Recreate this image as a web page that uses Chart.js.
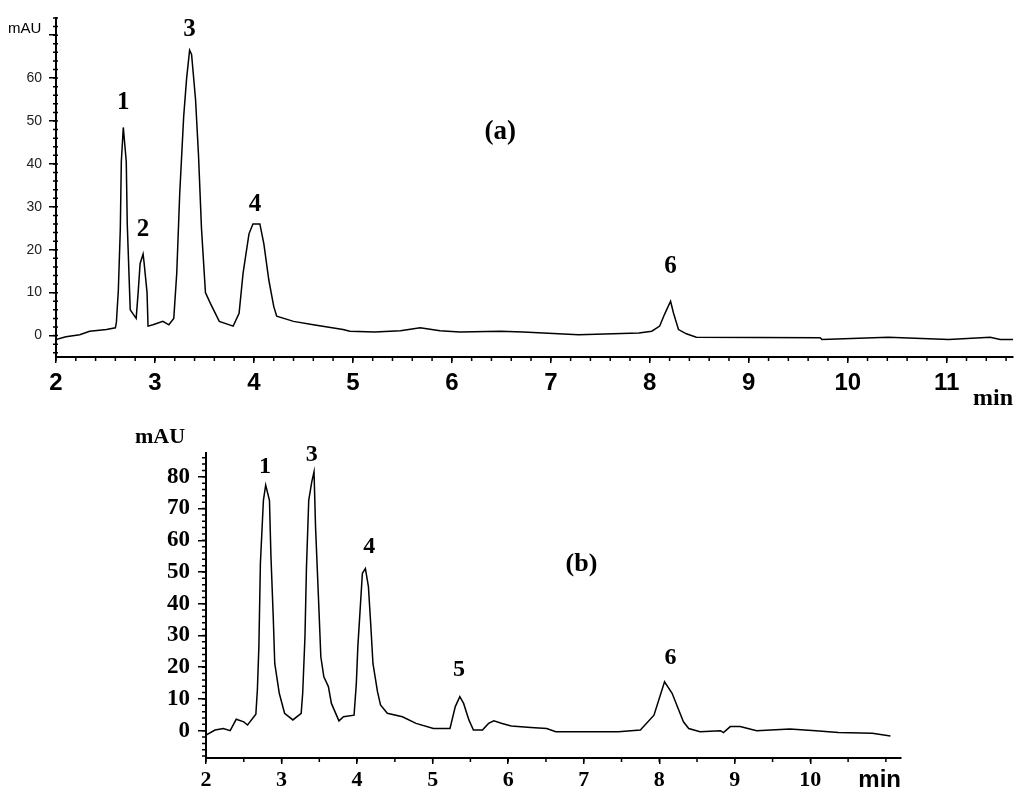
<!DOCTYPE html>
<html>
<head>
<meta charset="utf-8">
<script src="https://cdn.jsdelivr.net/npm/chart.js@4.4.1/dist/chart.umd.min.js"></script>
<style>
  html, body { margin: 0; padding: 0; background: #fff; }
  .panel { position: absolute; left: 0; width: 1024px; }
  #wrap-a { top: 0; height: 410px; }
  #wrap-b { top: 410px; height: 397px; }
</style>
</head>
<body>
<div class="panel" id="wrap-a"><canvas id="chrom-a"></canvas></div>
<div class="panel" id="wrap-b"><canvas id="chrom-b"></canvas></div>
<script>
// ============================================================
// DATA
// ============================================================
// (a) retention time (min) / absorbance (mAU)
const timeA = [2.00,2.10,2.24,2.34,2.51,2.60,2.61,2.63,2.65,2.66,2.68,2.71,2.72,2.75,2.78,2.81,2.83,2.85,2.88,2.89,2.92,2.93,2.98,3.08,3.14,3.19,3.22,3.25,3.29,3.32,3.35,3.37,3.41,3.44,3.47,3.51,3.56,3.65,3.79,3.85,3.89,3.95,3.99,4.06,4.10,4.15,4.20,4.23,4.40,4.60,4.90,4.97,5.22,5.48,5.68,5.88,6.08,6.49,6.72,7.28,7.89,8.02,8.10,8.15,8.21,8.24,8.29,8.37,8.47,9.72,9.74,10.41,11.02,11.44,11.54,11.67];
const mauA  = [-0.9,-0.3,0.2,1.0,1.4,1.8,3.0,10.6,25,40.5,48.5,40.5,26,6,5,4,10,16.8,19,17,10,2.2,2.5,3.3,2.5,4,14.5,33,51,60,66.5,65.5,55,42,25,10,7.5,3.3,2.2,5.2,14.5,23.7,26,26,21.4,13,6.8,4.5,3.3,2.5,1.4,1,0.8,1.1,1.8,1.1,0.8,1.0,0.8,0.2,0.6,1,2.2,5,8,5.2,1.4,0.4,-0.4,-0.5,-0.9,-0.4,-0.9,-0.4,-0.9,-0.9];

// (b)
const timeB = [2.00,2.12,2.23,2.32,2.40,2.50,2.55,2.66,2.68,2.70,2.72,2.76,2.79,2.84,2.86,2.89,2.91,2.97,3.04,3.15,3.26,3.28,3.31,3.33,3.36,3.40,3.43,3.45,3.49,3.52,3.56,3.62,3.66,3.76,3.82,3.96,3.99,4.01,4.04,4.07,4.11,4.15,4.18,4.21,4.27,4.31,4.40,4.60,4.78,5.01,5.23,5.30,5.36,5.41,5.48,5.54,5.66,5.74,5.81,5.92,6.04,6.30,6.51,6.63,7.46,7.75,7.93,8.07,8.17,8.32,8.39,8.54,8.81,8.85,8.94,9.07,9.29,9.73,10.07,10.37,10.82,11.06];
const mauB  = [-1.4,0.2,0.7,0,3.6,2.8,1.8,5.2,12.8,26.5,52.7,72.6,77.4,72.6,54.8,35.9,21.2,11.8,5.5,3.4,5.5,11.8,29.6,51.6,72.6,78.4,81.6,64.3,41.2,23.3,17,13.9,8.6,3.1,4.4,4.9,14.9,26.5,38,49.6,51.1,45.4,33.8,21.2,12.3,8.1,5.5,4.4,2.3,0.7,0.7,7.6,10.7,8.6,3.4,0.2,0.2,2.3,3.1,2.3,1.5,1.0,0.7,-0.3,-0.3,0.2,4.9,15.4,11.8,2.8,0.7,-0.3,0,-0.6,1.3,1.3,0,0.5,0,-0.6,-0.8,-1.7];

// tick values
const xTicksA = [2,3,4,5,6,7,8,9,10,11];
const yTicksA = [0,10,20,30,40,50,60,70];
const xTicksB = [2,3,4,5,6,7,8,9,10];
const yTicksB = [0,10,20,30,40,50,60,70,80];

// peak labels: name, time (min), mAU level where the label sits
const peakNamesA  = ['1','2','3','4','6'];
const peakTimesA  = [2.68, 2.88, 3.35, 4.01, 8.21];
const peakLevelsA = [54.2, 24.7, 71.4, 30.6, 16.1];
const peakNamesB  = ['1','3','4','5','6'];
const peakTimesB  = [2.78, 3.40, 4.16, 5.35, 8.15];
const peakLevelsB = [83.1, 86.9, 58.0, 19.2, 23.0];

// ============================================================
// minor ticks, axis captions and peak labels
// ============================================================
const chromExtras = {
  id: 'chromExtras',
  afterDraw(chart, args, o) {
    const { ctx, chartArea: ca, scales: { x, y } } = chart;
    ctx.save();
    ctx.strokeStyle = '#000';
    ctx.lineWidth = 1.5;
    ctx.beginPath();
    for (let i = Math.ceil(x.min / o.minorX); i * o.minorX <= x.max + 1e-9; i++) {
      const px = x.getPixelForValue(i * o.minorX);
      ctx.moveTo(px, ca.bottom);
      ctx.lineTo(px, ca.bottom + o.minorXLen);
    }
    for (let i = Math.ceil(y.min / o.minorY); i * o.minorY <= y.max + 1e-9; i++) {
      const py = y.getPixelForValue(i * o.minorY);
      ctx.moveTo(ca.left - o.minorYLen, py);
      ctx.lineTo(ca.left + o.minorYIn, py);
    }
    ctx.stroke();

    ctx.fillStyle = '#000';
    // y caption
    ctx.font = o.unitFont;
    ctx.textAlign = 'left';
    ctx.textBaseline = 'alphabetic';
    ctx.fillText('mAU', ca.left + o.unitDx, ca.top + o.unitDy);
    // x caption
    ctx.font = o.minFont;
    ctx.textAlign = 'right';
    ctx.fillText('min', ca.right, ca.bottom + o.minDy);

    // peak labels
    ctx.textAlign = 'center';
    ctx.textBaseline = 'middle';
    ctx.font = o.peakFont;
    o.names.forEach((n, i) => {
      ctx.fillText(n, x.getPixelForValue(o.times[i]), y.getPixelForValue(o.levels[i]));
    });
    // panel tag
    ctx.font = o.tagFont;
    ctx.fillText(o.tag, x.getPixelForValue(o.tagAt[0]), y.getPixelForValue(o.tagAt[1]));
    ctx.restore();
  }
};

function axisX(min, max, ticks, font, padding, height) {
  return {
    type: 'linear', min, max,
    afterBuildTicks: s => { s.ticks = ticks.map(v => ({ value: v })); },
    afterFit: s => { s.height = height; },
    grid: { drawOnChartArea: false, drawTicks: true, tickLength: 6, color: '#000', lineWidth: 1.5 },
    border: { display: true, color: '#000', width: 2 },
    ticks: { font, color: '#000', padding, maxRotation: 0, autoSkip: false }
  };
}

function axisY(min, max, ticks, font, color, padding, width, tickLength, cb) {
  return {
    type: 'linear', min, max,
    afterBuildTicks: s => { s.ticks = ticks.map(v => ({ value: v })); },
    afterFit: s => { s.width = width; },
    grid: { drawOnChartArea: false, drawTicks: true, tickLength, color: '#000', lineWidth: 1.5 },
    border: { display: true, color: '#000', width: 2 },
    ticks: { font, color, padding, autoSkip: false, callback: cb }
  };
}

const traceStyle = { borderColor: '#000', borderWidth: 1.5, pointRadius: 0, tension: 0, fill: false };

// ------------------------------------------------------------
// (a)
// ------------------------------------------------------------
new Chart(document.getElementById('chrom-a'), {
  type: 'line',
  data: { datasets: [{ ...traceStyle, data: timeA.map((t, i) => ({ x: t, y: mauA[i] })) }] },
  options: {
    responsive: true, maintainAspectRatio: false, animation: false,
    layout: { padding: { top: 18, right: 11, left: 0, bottom: 0 } },
    plugins: {
      legend: { display: false }, tooltip: { enabled: false },
      chromExtras: {
        minorX: 0.2, minorXLen: 4, minorY: 2, minorYLen: 3, minorYIn: 2,
        unitFont: '15px "Liberation Sans"', unitDx: -48, unitDy: 15,
        minFont: 'bold 24px "Liberation Serif"', minDy: 48,
        peakFont: 'bold 25px "Liberation Serif"',
        names: peakNamesA, times: peakTimesA, levels: peakLevelsA,
        tagFont: 'bold 27px "Liberation Serif"', tag: '(a)', tagAt: [6.49, 47.4]
      }
    },
    scales: {
      x: axisX(2, 11.67, xTicksA, { family: 'Liberation Sans', weight: 'bold', size: 24 }, 6, 53),
      y: axisY(-5, 74, yTicksA, { family: 'Liberation Sans', size: 14 }, '#222', 7, 56, 7, v => v === 70 ? '' : v)
    }
  },
  plugins: [chromExtras]
});

// ------------------------------------------------------------
// (b)
// ------------------------------------------------------------
new Chart(document.getElementById('chrom-b'), {
  type: 'line',
  data: { datasets: [{ ...traceStyle, data: timeB.map((t, i) => ({ x: t, y: mauB[i] })) }] },
  options: {
    responsive: true, maintainAspectRatio: false, animation: false,
    layout: { padding: { top: 43, right: 123, left: 0, bottom: 0 } },
    plugins: {
      legend: { display: false }, tooltip: { enabled: false },
      chromExtras: {
        minorX: 0.5, minorXLen: 4, minorY: 2, minorYLen: 4, minorYIn: 0,
        unitFont: 'bold 22px "Liberation Serif"', unitDx: -71, unitDy: -10,
        minFont: 'bold 24px "Liberation Sans"', minDy: 29,
        peakFont: 'bold 24px "Liberation Serif"',
        names: peakNamesB, times: peakTimesB, levels: peakLevelsB,
        tagFont: 'bold 26px "Liberation Serif"', tag: '(b)', tagAt: [6.97, 52.3]
      }
    },
    scales: {
      x: axisX(2, 11.2, xTicksB, { family: 'Liberation Serif', weight: 'bold', size: 22 }, 3, 49),
      y: axisY(-8.6, 87.5, yTicksB, { family: 'Liberation Serif', weight: 'bold', size: 23 }, '#000', 8, 206, 8)
    }
  },
  plugins: [chromExtras]
});
</script>
</body>
</html>
